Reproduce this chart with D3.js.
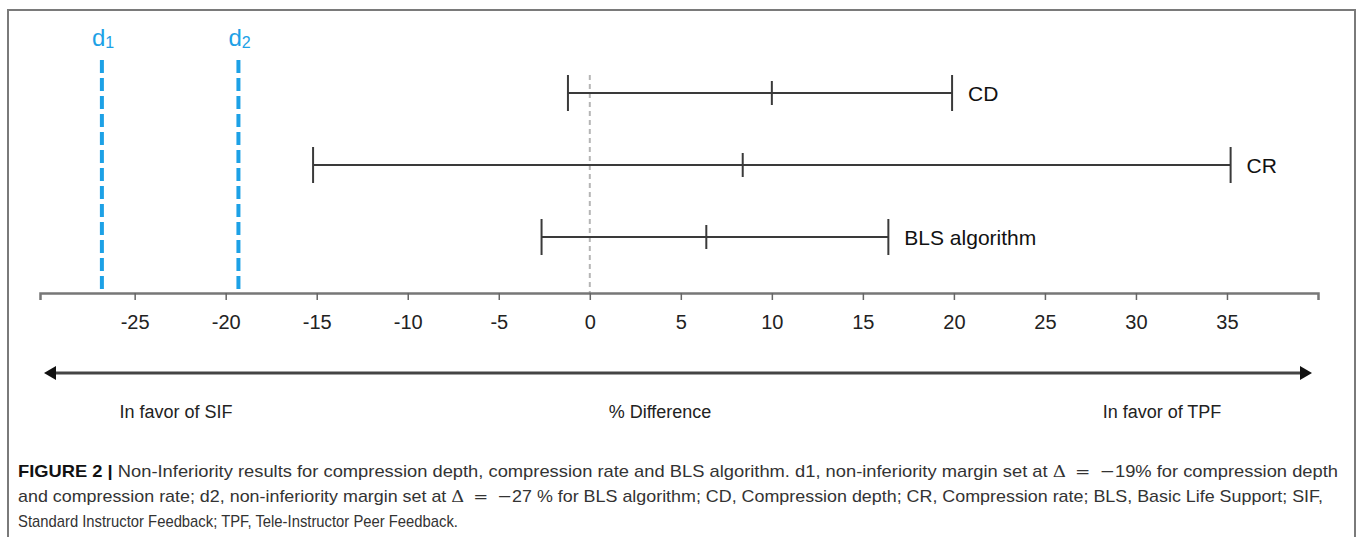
<!DOCTYPE html>
<html>
<head>
<meta charset="utf-8">
<script src="https://cdn.jsdelivr.net/npm/d3@7"></script>
<style>
  body { margin: 0; background: #fff; }
  svg { display: block; }
</style>
</head>
<body>
<div id="chart"></div>
<script>
// --- Data ---
const outcomes = ["CD", "CR", "BLS algorithm"];
const lowerCI = [-1.2, -15.2, -2.65];
const pointEst = [10.0, 8.4, 6.4];
const upperCI = [19.9, 35.2, 16.4];
const margins = [-26.8, -19.3];
const marginLabels = ["1", "2"];
const tickValues = [-25, -20, -15, -10, -5, 0, 5, 10, 15, 20, 25, 30, 35];

// caption pieces: [bold lead, text, math symbols, text]
const captionLines = [
  ["FIGURE 2 | ", "Non-Inferiority results for compression depth, compression rate and BLS algorithm. d1, non-inferiority margin set at ", "\u0394\u2002=\u2002\u2212", "19% for compression depth"],
  ["", "and compression rate; d2, non-inferiority margin set at ", "\u0394\u2002=\u2002\u2212", "27 % for BLS algorithm; CD, Compression depth; CR, Compression rate; BLS, Basic Life Support; SIF,"],
  ["", "Standard Instructor Feedback; TPF, Tele-Instructor Peer Feedback.", "", ""]
];

const W = 1357, H = 537;
const font = "'Liberation Sans', Arial, Helvetica, sans-serif";
const blue = "#1da1e6";

const svg = d3.select("#chart").append("svg")
  .attr("width", W)
  .attr("height", H);

// --- outer frame ---
svg.append("rect")
  .attr("x", 8).attr("y", 10)
  .attr("width", 1347).attr("height", 540)
  .attr("fill", "none")
  .attr("stroke", "#7a7a7a")
  .attr("stroke-width", 2);

// --- scales ---
const x = d3.scaleLinear().domain([-30.2, 40]).range([40, 1318]);
const y = d3.scalePoint().domain(outcomes).range([93, 237]);
const axisY = 293;

// --- zero reference line ---
svg.append("line")
  .attr("x1", x(0)).attr("x2", x(0))
  .attr("y1", 75).attr("y2", axisY)
  .attr("stroke", "#b5b5b5")
  .attr("stroke-width", 2)
  .attr("stroke-dasharray", "5,4");

// --- non-inferiority margins ---
const marg = svg.selectAll(".margin")
  .data(margins)
  .join("g")
  .attr("class", "margin");

marg.append("line")
  .attr("x1", d => x(d)).attr("x2", d => x(d))
  .attr("y1", 60).attr("y2", axisY)
  .attr("stroke", blue)
  .attr("stroke-width", 4)
  .attr("stroke-dasharray", "13,5");

const dl = marg.append("text")
  .attr("x", d => x(d) - 10)
  .attr("y", 46)
  .style("font-family", font)
  .style("font-size", "24px")
  .style("fill", blue);
dl.append("tspan").text("d");
dl.append("tspan")
  .attr("dy", 2)
  .style("font-size", "16px")
  .text((d, i) => marginLabels[i]);

// --- axis ---
const axis = svg.append("g")
  .attr("transform", `translate(0,${axisY})`)
  .call(d3.axisBottom(x).tickValues(tickValues).tickSize(7).tickPadding(15).tickFormat(d3.format("d")));
axis.select(".domain")
  .attr("stroke", "#777")
  .attr("stroke-width", 2.5);
axis.selectAll(".tick line")
  .attr("stroke", "#666")
  .attr("stroke-width", 1.5);
axis.selectAll(".tick text")
  .style("font-family", font)
  .style("font-size", "20px")
  .style("fill", "#222")
  .text(d => d < 0 ? "-" + Math.abs(d) : d);

// --- confidence intervals ---
const rows = svg.selectAll(".ci")
  .data(outcomes)
  .join("g")
  .attr("class", "ci");

rows.append("line")
  .attr("x1", (d, i) => x(lowerCI[i]))
  .attr("x2", (d, i) => x(upperCI[i]))
  .attr("y1", d => y(d)).attr("y2", d => y(d))
  .attr("stroke", "#3a3a3a")
  .attr("stroke-width", 2);

[lowerCI, upperCI].forEach(arr => {
  rows.append("line")
    .attr("x1", (d, i) => x(arr[i])).attr("x2", (d, i) => x(arr[i]))
    .attr("y1", d => y(d) - 18).attr("y2", d => y(d) + 18)
    .attr("stroke", "#3a3a3a")
    .attr("stroke-width", 2);
});

rows.append("line")
  .attr("x1", (d, i) => x(pointEst[i])).attr("x2", (d, i) => x(pointEst[i]))
  .attr("y1", d => y(d) - 12).attr("y2", d => y(d) + 12)
  .attr("stroke", "#3a3a3a")
  .attr("stroke-width", 2);

rows.append("text")
  .attr("x", (d, i) => x(upperCI[i]) + 16)
  .attr("y", d => y(d) + 8)
  .style("font-family", font)
  .style("font-size", "21px")
  .style("fill", "#111")
  .text(d => d);

// --- direction arrow ---
const arrowY = 373;
svg.append("line")
  .attr("x1", 52).attr("x2", 1302)
  .attr("y1", arrowY).attr("y2", arrowY)
  .attr("stroke", "#444")
  .attr("stroke-width", 3);
svg.append("path")
  .attr("d", `M44,${arrowY} L56,${arrowY - 7} L56,${arrowY + 7} Z`)
  .attr("fill", "#111");
svg.append("path")
  .attr("d", `M1312,${arrowY} L1300,${arrowY - 7} L1300,${arrowY + 7} Z`)
  .attr("fill", "#111");

const dirLabels = [
  { t: "In favor of SIF", x: 176 },
  { t: "% Difference", x: 660 },
  { t: "In favor of TPF", x: 1162 }
];
svg.selectAll(".dir")
  .data(dirLabels)
  .join("text")
  .attr("class", "dir")
  .attr("x", d => d.x)
  .attr("y", 418)
  .attr("text-anchor", "middle")
  .style("font-family", font)
  .style("font-size", "18px")
  .style("fill", "#222")
  .text(d => d.t);

// --- caption ---
const capY = [477, 502, 527];
const capEnd = [1338, 1323, 458];
captionLines.forEach((ln, i) => {
  const t = svg.append("text")
    .attr("x", 18)
    .attr("y", capY[i])
    .attr("textLength", capEnd[i] - 18)
    .attr("lengthAdjust", "spacingAndGlyphs")
    .style("font-family", font)
    .style("font-size", "17px")
    .style("fill", "#333");
  if (ln[0]) t.append("tspan").style("font-weight", "bold").style("fill", "#111").text(ln[0]);
  t.append("tspan").text(ln[1]);
  if (ln[2]) t.append("tspan").style("font-family", "'DejaVu Serif', 'Liberation Serif', serif").text(ln[2]);
  if (ln[3]) t.append("tspan").text(ln[3]);
});
</script>
</body>
</html>
